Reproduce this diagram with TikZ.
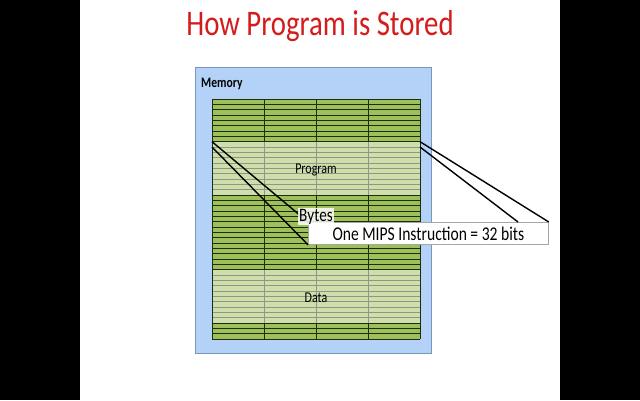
\documentclass[tikz,border=0pt]{standalone}
\usepackage{fontspec}
\setmainfont{Carlito}
\definecolor{titlered}{RGB}{212,28,28}
\definecolor{memblue}{RGB}{180,210,248}
\definecolor{memedge}{RGB}{120,150,190}
\definecolor{dgreen}{RGB}{158,192,88}
\definecolor{gline}{RGB}{30,45,15}
\newcommand{\sq}[1]{\scalebox{0.8}[1]{#1}}
\begin{document}
\begin{tikzpicture}[x=1pt,y=-1pt,
  lbl/.style={inner sep=0pt,text=black},
  conn/.style={draw=black,line width=1.4pt},
  lightover/.style={fill=white,fill opacity=0.5,draw=none}]
\useasboundingbox (0,0) rectangle (640,400);
\fill[white] (0,0) rectangle (640,400);
\fill[black] (0,0) rectangle (80,400);
\fill[black] (560,0) rectangle (640,400);
% title
\node[anchor=base,text=titlered,inner sep=0pt,font=\fontsize{36}{40}\selectfont] (title) at (320,35) {\sq{How Program is Stored}};
% memory box
\node[draw=memedge,fill=memblue,line width=0.8pt,minimum width=236pt,minimum height=286pt,inner sep=0pt] (mem) at (313.5,210.5) {};
\node[anchor=base west,font=\bfseries\fontsize{14.5}{16}\selectfont,lbl] (memlbl) at (201,87) {\sq{Memory}};
% grid
\fill[dgreen] (212,99) rectangle (420,339);
\foreach \i in {0,...,45} {
  \draw[gline,line width=0.9pt] (212,99+\i*5.3333) -- (420,99+\i*5.3333);
}
\foreach \x in {212,264,316,368,420} {
  \draw[gline,line width=0.9pt] (\x,99) -- (\x,339);
}
% light sections
\fill[lightover] (212.5,141.67) rectangle (419.5,195);
\fill[lightover] (212.5,269.67) rectangle (419.5,323);
\node[lbl,font=\fontsize{15}{17}\selectfont] (prog) at (316,170) {\sq{Program}};
\node[lbl,font=\fontsize{15}{17}\selectfont] (data) at (316,298) {\sq{Data}};
% callout
\coordinate (ptl) at (212,141.67);
\coordinate (pbl) at (212,147);
\coordinate (ptr) at (420,141.67);
\coordinate (pbr) at (420,147);
\node[draw=gray!70,fill=white,line width=0.8pt,minimum width=240pt,minimum height=22pt,inner sep=0pt,anchor=north west,font=\fontsize{19.5}{21}\selectfont] (mips) at (308,222) {\sq{One MIPS Instruction = 32 bits}};
\coordinate (rl) at (518,222);
\draw[conn] (ptl) -- (mips.north west);
\draw[conn] (pbl) -- (mips.south west);
\draw[conn] (ptr) -- (mips.north east);
\draw[conn] (pbr) -- (rl);
\node[anchor=base,fill=white,fill opacity=0.85,text opacity=1,inner xsep=1pt,inner ysep=1pt,font=\fontsize{19}{21}\selectfont] (bytes) at (316,221) {\sq{Bytes}};
\end{tikzpicture}
\end{document}
